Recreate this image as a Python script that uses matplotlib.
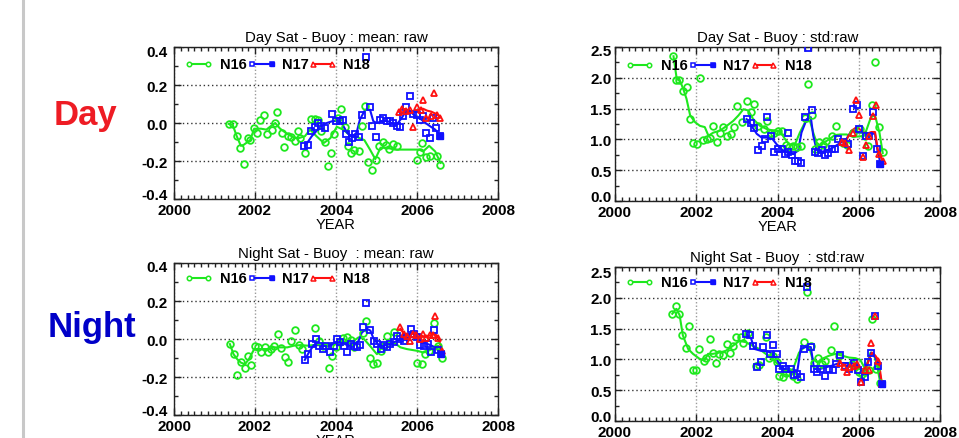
import matplotlib
matplotlib.use("Agg")
import matplotlib.pyplot as plt
from matplotlib.lines import Line2D
from matplotlib.ticker import MultipleLocator, FixedLocator
from matplotlib.transforms import offset_copy

plt.rcParams['font.family'] = ['Liberation Sans', 'DejaVu Sans']
plt.rcParams['axes.unicode_minus'] = False

# ---------------- Day mean ----------------
dm_n16_x = [2001.35, 2001.46, 2001.55, 2001.64, 2001.73, 2001.82, 2001.88, 2001.98, 2002.05, 2002.13,
            2002.23, 2002.29, 2002.41, 2002.50, 2002.55, 2002.66, 2002.71, 2002.82, 2002.90, 2002.98,
            2003.07, 2003.12, 2003.23, 2003.39, 2003.47, 2003.56, 2003.64, 2003.72, 2003.80, 2003.88,
            2003.96, 2004.04, 2004.12, 2004.23, 2004.29, 2004.37, 2004.45, 2004.56, 2004.64, 2004.72,
            2004.80, 2004.89, 2004.99, 2005.07, 2005.15, 2005.24, 2005.32, 2005.40, 2005.50, 2005.99,
            2006.07, 2006.13, 2006.22, 2006.31, 2006.50, 2006.58]
dm_n16_y = [-0.005, -0.005, -0.07, -0.13, -0.214, -0.08, -0.09, -0.026, -0.05, 0.018,
            0.04, -0.056, -0.035, 0.0, 0.056, -0.053, -0.126, -0.067, -0.074, -0.097,
            -0.04, -0.08, -0.158, 0.02, 0.02, 0.014, -0.044, -0.10, -0.225, -0.16,
            -0.06, 0.026, 0.074, -0.02, -0.12, -0.16, -0.14, -0.145, -0.018, 0.09,
            -0.207, -0.245, -0.196, -0.12, -0.10, -0.114, -0.137, -0.112, -0.12, -0.196,
            -0.15, -0.105, -0.18, -0.172, -0.172, -0.22]
dm_n16_lx = [2001.35, 2001.45, 2001.55, 2001.65, 2001.72, 2001.88, 2001.98, 2002.15, 2002.28, 2002.40,
             2002.50, 2002.62, 2002.78, 2002.95, 2003.07, 2003.23, 2003.36, 2003.52, 2003.70, 2003.86,
             2004.02, 2004.18, 2004.37, 2004.53, 2004.70, 2004.84, 2004.97, 2005.10, 2005.25, 2005.45,
             2005.80, 2006.05, 2006.15, 2006.30, 2006.45, 2006.58]
dm_n16_ly = [-0.005, -0.01, -0.07, -0.12, -0.115, -0.09, -0.03, -0.03, -0.035, -0.015,
             0.0, -0.03, -0.055, -0.075, -0.08, -0.07, -0.035, -0.07, -0.105, -0.08,
             -0.02, -0.035, -0.07, -0.075, -0.09, -0.14, -0.19, -0.13, -0.13, -0.14,
             -0.14, -0.14, -0.15, -0.12, -0.15, -0.21]
dm_n17_x = [2003.21, 2003.30, 2003.39, 2003.47, 2003.56, 2003.64, 2003.72, 2003.90, 2004.00, 2004.09,
            2004.17, 2004.25, 2004.33, 2004.40, 2004.48, 2004.56, 2004.64, 2004.74, 2004.83, 2004.90,
            2004.99, 2005.08, 2005.17, 2005.25, 2005.33, 2005.41, 2005.50, 2005.58, 2005.66, 2005.74,
            2005.82, 2005.90, 2005.99, 2006.07, 2006.15, 2006.23, 2006.31, 2006.40, 2006.48, 2006.56]
dm_n17_y = [-0.12, -0.114, -0.044, -0.02, 0.0, -0.014, -0.026, 0.047, 0.012, 0.012,
            0.018, -0.06, -0.10, -0.08, -0.06, -0.074, 0.04, 0.35, 0.084, -0.014,
            -0.074, 0.014, 0.026, 0.008, 0.008, 0.0, -0.018, -0.02, 0.035, 0.084,
            0.14, 0.047, 0.044, 0.018, 0.035, -0.053, -0.08, 0.026, -0.026, -0.067]
dm_n17_lx = [2003.24, 2003.40, 2003.57, 2003.73, 2003.90, 2004.02, 2004.14, 2004.27, 2004.39, 2004.51,
             2004.59, 2004.72, 2004.84, 2004.92, 2005.00, 2005.13, 2005.25, 2005.37, 2005.50, 2005.62,
             2005.72, 2005.84, 2005.96, 2006.09, 2006.21, 2006.33, 2006.45, 2006.56]
dm_n17_ly = [-0.12, -0.07, -0.03, -0.003, 0.009, 0.012, 0.0, -0.05, -0.075, -0.05,
             0.018, 0.07, 0.07, 0.01, 0.0, 0.009, 0.012, 0.0, -0.009, 0.026,
             0.06, 0.06, 0.035, 0.021, 0.0, -0.018, -0.035, -0.062]
dm_n18_x = [2005.55, 2005.64, 2005.73, 2005.82, 2005.90, 2006.01, 2006.09, 2006.15, 2006.23, 2006.34,
            2006.42, 2006.50, 2006.58]
dm_n18_y = [0.06, 0.075, 0.062, 0.067, -0.02, 0.084, 0.07, 0.12, 0.026, 0.035,
            0.16, 0.044, 0.026]
dm_n18_lx = [2005.55, 2005.65, 2005.75, 2005.85, 2005.95, 2006.05, 2006.15, 2006.25, 2006.35, 2006.45,
             2006.52, 2006.58]
dm_n18_ly = [0.06, 0.075, 0.07, 0.06, 0.06, 0.07, 0.075, 0.065, 0.06, 0.05,
             0.04, 0.03]

# ---------------- Day std ----------------
ds_n16_x = [2001.42, 2001.50, 2001.58, 2001.67, 2001.76, 2001.85, 2001.93, 2002.01, 2002.09, 2002.17,
            2002.27, 2002.34, 2002.42, 2002.50, 2002.58, 2002.67, 2002.75, 2002.85, 2002.93, 2003.01,
            2003.12, 2003.24, 2003.34, 2003.42, 2003.53, 2003.67, 2003.75, 2003.83, 2003.91, 2004.02,
            2004.10, 2004.21, 2004.29, 2004.39, 2004.49, 2004.59, 2004.67, 2004.76, 2004.84, 2004.92,
            2005.03, 2005.11, 2005.19, 2005.33, 2005.44, 2005.62, 2005.70, 2005.87, 2006.03, 2006.15,
            2006.23, 2006.32, 2006.41, 2006.50, 2006.59]
ds_n16_y = [2.35, 1.97, 1.97, 1.79, 1.85, 1.33, 0.94, 0.92, 1.99, 0.99,
            1.00, 1.02, 1.22, 0.95, 1.11, 1.20, 1.05, 1.09, 1.20, 1.54,
            1.28, 1.63, 1.44, 1.58, 1.22, 1.17, 1.30, 1.11, 1.11, 1.14,
            1.13, 0.91, 0.87, 0.90, 0.87, 0.89, 1.34, 1.90, 1.39, 0.84,
            0.96, 0.91, 0.98, 1.05, 1.21, 0.94, 0.91, 1.10, 1.17, 1.05,
            0.90, 1.56, 2.26, 1.20, 0.79]
ds_n16_lx = [2001.44, 2001.52, 2001.60, 2001.68, 2001.76, 2001.85, 2001.97, 2002.09, 2002.21, 2002.30,
             2002.42, 2002.58, 2002.75, 2002.91, 2003.04, 2003.16, 2003.28, 2003.40, 2003.57, 2003.73,
             2003.90, 2004.06, 2004.18, 2004.31, 2004.43, 2004.55, 2004.68, 2004.80, 2004.88, 2004.96,
             2005.05, 2005.17, 2005.29, 2005.41, 2005.54, 2005.70, 2005.87, 2006.03, 2006.14, 2006.30,
             2006.40, 2006.51, 2006.59]
ds_n16_ly = [2.35, 1.98, 1.95, 1.82, 1.66, 1.39, 1.28, 1.22, 1.20, 1.06,
             1.11, 1.14, 1.22, 1.30, 1.39, 1.49, 1.47, 1.33, 1.22, 1.17,
             1.14, 1.14, 1.01, 0.90, 0.92, 1.11, 1.28, 1.30, 1.11, 0.95,
             0.90, 0.96, 1.01, 1.07, 1.08, 1.08, 1.04, 1.05, 1.06, 1.36,
             1.39, 1.11, 0.78]
ds_n17_x = [2003.24, 2003.34, 2003.42, 2003.53, 2003.61, 2003.69, 2003.75, 2003.83, 2003.91, 2004.02,
            2004.10, 2004.18, 2004.27, 2004.27, 2004.35, 2004.43, 2004.51, 2004.59, 2004.67, 2004.76,
            2004.84, 2004.92, 2005.00, 2005.09, 2005.17, 2005.25, 2005.33, 2005.41, 2005.50, 2005.62,
            2005.74, 2005.87, 2005.95, 2006.01, 2006.10, 2006.18, 2006.26, 2006.34, 2006.44, 2006.52]
ds_n17_y = [1.33, 1.27, 1.18, 0.83, 0.90, 1.00, 1.37, 1.05, 0.79, 0.85,
            0.84, 0.76, 0.80, 1.10, 0.74, 0.65, 0.65, 0.62, 1.37, 2.49,
            1.48, 0.80, 0.78, 0.83, 0.74, 0.78, 0.84, 0.85, 1.00, 0.95,
            0.92, 1.49, 1.56, 1.17, 0.73, 1.05, 1.06, 1.44, 0.85, 0.60]
ds_n17_lx = [2003.24, 2003.36, 2003.49, 2003.61, 2003.73, 2003.86, 2003.98, 2004.10, 2004.22, 2004.39,
             2004.51, 2004.59, 2004.72, 2004.82, 2004.88, 2004.96, 2005.09, 2005.21, 2005.37, 2005.54,
             2005.70, 2005.82, 2005.95, 2006.11, 2006.28, 2006.40, 2006.46, 2006.54]
ds_n17_ly = [1.33, 1.22, 1.09, 1.03, 1.03, 1.02, 0.92, 0.84, 0.79, 0.76,
             0.82, 1.11, 1.33, 1.36, 1.06, 0.84, 0.80, 0.82, 0.87, 0.94,
             1.01, 1.14, 1.11, 1.11, 1.10, 1.09, 0.82, 0.60]
ds_n18_x = [2005.58, 2005.66, 2005.77, 2005.85, 2005.93, 2006.01, 2006.10, 2006.18, 2006.26, 2006.34,
            2006.42, 2006.50, 2006.59]
ds_n18_y = [0.96, 0.94, 0.82, 1.10, 1.64, 1.39, 0.71, 0.91, 1.06, 1.38,
            1.56, 0.76, 0.65]
ds_n18_lx = [2005.58, 2005.70, 2005.82, 2005.95, 2006.07, 2006.19, 2006.31, 2006.40, 2006.48, 2006.59]
ds_n18_ly = [0.96, 1.00, 1.14, 1.20, 1.14, 1.09, 1.12, 1.12, 0.79, 0.65]

# ---------------- Night mean ----------------
nm_n16_x = [2001.38, 2001.47, 2001.56, 2001.65, 2001.75, 2001.83, 2001.91, 2001.99, 2002.07, 2002.16,
            2002.24, 2002.32, 2002.40, 2002.48, 2002.57, 2002.65, 2002.73, 2002.81, 2002.90, 2002.98,
            2003.08, 2003.17, 2003.49, 2003.58, 2003.68, 2003.82, 2003.91, 2003.99, 2004.09, 2004.18,
            2004.26, 2004.36, 2004.44, 2004.66, 2004.75, 2004.83, 2004.92, 2005.01, 2005.10, 2005.18,
            2005.26, 2005.43, 2006.00, 2006.12, 2006.20, 2006.29, 2006.41, 2006.52, 2006.62]
nm_n16_y = [-0.027, -0.08, -0.19, -0.12, -0.15, -0.092, -0.138, -0.035, -0.044, -0.067,
            -0.044, -0.07, -0.053, -0.035, 0.027, -0.046, -0.097, -0.12, -0.009, 0.05,
            -0.032, -0.053, 0.057, -0.009, -0.039, -0.15, -0.088, -0.044, -0.014, 0.004,
            0.012, -0.004, -0.044, 0.03, 0.097, -0.10, -0.133, -0.124, -0.062, -0.035,
            0.014, 0.035, -0.127, -0.133, -0.08, -0.062, 0.085, -0.039, -0.10]
nm_n16_lx = [2001.38, 2001.47, 2001.56, 2001.65, 2001.75, 2001.85, 2001.98, 2002.14, 2002.30, 2002.47,
             2002.63, 2002.80, 2002.96, 2003.13, 2003.29, 2003.45, 2003.62, 2003.78, 2003.95, 2004.11,
             2004.28, 2004.44, 2004.56, 2004.69, 2004.85, 2005.01, 2005.10, 2005.26, 2005.43, 2005.59,
             2005.75, 2006.00, 2006.16, 2006.29, 2006.41, 2006.52, 2006.62]
nm_n16_ly = [-0.027, -0.08, -0.106, -0.124, -0.133, -0.106, -0.053, -0.053, -0.053, -0.044,
             -0.044, -0.044, -0.035, -0.032, -0.035, -0.032, -0.032, -0.027, -0.023, -0.018,
             -0.014, -0.009, 0.009, 0.0, -0.039, -0.08, -0.053, -0.021, -0.018, -0.044,
             -0.053, -0.062, -0.071, -0.062, -0.044, -0.035, -0.08]
nm_n17_x = [2003.23, 2003.31, 2003.41, 2003.51, 2003.59, 2003.68, 2003.76, 2003.84, 2003.95, 2004.03,
            2004.11, 2004.19, 2004.28, 2004.36, 2004.44, 2004.52, 2004.60, 2004.67, 2004.75, 2004.83,
            2004.93, 2005.01, 2005.10, 2005.18, 2005.26, 2005.34, 2005.42, 2005.51, 2005.59, 2005.67,
            2005.75, 2005.84, 2005.92, 2006.00, 2006.08, 2006.17, 2006.26, 2006.34, 2006.43, 2006.51,
            2006.59]
nm_n17_y = [-0.11, -0.08, -0.027, 0.0, -0.035, -0.053, -0.039, -0.07, -0.035, 0.0,
            -0.018, -0.039, -0.067, -0.027, -0.035, -0.044, -0.032, 0.062, 0.19, 0.05,
            -0.009, -0.027, -0.053, -0.032, -0.044, -0.027, -0.014, 0.018, 0.0, -0.009,
            0.009, 0.053, 0.027, 0.009, -0.032, -0.035, -0.027, -0.07, 0.05, -0.057,
            -0.08]
nm_n17_lx = [2003.23, 2003.33, 2003.45, 2003.62, 2003.78, 2003.95, 2004.11, 2004.28, 2004.44, 2004.56,
             2004.64, 2004.77, 2004.85, 2004.93, 2005.06, 2005.18, 2005.34, 2005.51, 2005.67, 2005.84,
             2006.00, 2006.16, 2006.33, 2006.45, 2006.58]
nm_n17_ly = [-0.11, -0.071, -0.032, -0.032, -0.039, -0.027, -0.018, -0.032, -0.035, -0.009,
             0.035, 0.053, 0.044, 0.0, -0.032, -0.035, -0.027, -0.009, 0.0, 0.014,
             0.0, -0.018, -0.032, -0.044, -0.071]
nm_n18_x = [2005.59, 2005.67, 2005.75, 2005.82, 2005.90, 2005.98, 2006.07, 2006.15, 2006.23, 2006.31,
            2006.39, 2006.45, 2006.53, 2006.62]
nm_n18_y = [0.062, 0.027, 0.018, -0.009, 0.027, 0.021, 0.0, 0.027, 0.004, 0.021,
            0.021, 0.12, 0.004, -0.062]
nm_n18_lx = [2005.59, 2005.71, 2005.84, 2006.00, 2006.16, 2006.33, 2006.45, 2006.53, 2006.62]
nm_n18_ly = [0.053, 0.018, 0.027, 0.027, 0.014, 0.018, 0.027, 0.004, -0.062]

# ---------------- Night std ----------------
ns_n16_x = [2001.41, 2001.49, 2001.58, 2001.66, 2001.74, 2001.82, 2001.92, 2002.00, 2002.07, 2002.18,
            2002.24, 2002.33, 2002.41, 2002.49, 2002.57, 2002.67, 2002.75, 2002.83, 2002.91, 2002.99,
            2003.10, 2003.16, 2003.27, 2003.47, 2003.55, 2003.71, 2003.80, 2003.89, 2003.98, 2004.04,
            2004.14, 2004.20, 2004.29, 2004.38, 2004.47, 2004.65, 2004.73, 2004.82, 2004.90, 2005.00,
            2005.09, 2005.18, 2005.31, 2005.39, 2005.51, 2005.84, 2006.00, 2006.07, 2006.15, 2006.24,
            2006.33, 2006.42, 2006.53]
ns_n16_y = [1.74, 1.86, 1.74, 1.39, 1.18, 1.54, 0.82, 0.82, 1.17, 0.98,
            1.02, 1.33, 1.10, 0.94, 1.09, 1.07, 1.25, 1.10, 1.22, 1.36,
            1.36, 1.27, 1.43, 0.90, 0.91, 1.36, 1.02, 1.06, 0.96, 0.73,
            0.72, 0.78, 0.79, 0.73, 0.68, 1.28, 2.09, 1.21, 0.94, 1.02,
            0.92, 0.98, 1.16, 1.54, 1.06, 0.92, 0.80, 0.76, 0.79, 0.82,
            1.65, 0.84, 0.62]
ns_n16_lx = [2001.41, 2001.51, 2001.59, 2001.67, 2001.80, 2001.92, 2002.08, 2002.20, 2002.29, 2002.41,
             2002.57, 2002.73, 2002.90, 2003.06, 2003.22, 2003.39, 2003.55, 2003.71, 2003.88, 2004.04,
             2004.20, 2004.37, 2004.53, 2004.69, 2004.78, 2004.86, 2004.98, 2005.10, 2005.27, 2005.43,
             2005.59, 2005.76, 2005.92, 2006.04, 2006.16, 2006.29, 2006.37, 2006.45, 2006.53]
ns_n16_ly = [1.74, 1.82, 1.72, 1.39, 1.17, 1.09, 1.01, 0.98, 1.09, 1.09,
             1.11, 1.14, 1.22, 1.30, 1.28, 1.22, 1.17, 1.09, 1.01, 0.90,
             0.82, 0.82, 1.11, 1.22, 1.20, 1.01, 0.95, 1.01, 1.06, 1.09,
             1.06, 1.03, 1.02, 0.99, 0.84, 1.11, 1.09, 0.90, 0.62]
ns_n17_x = [2003.22, 2003.32, 2003.40, 2003.49, 2003.59, 2003.65, 2003.73, 2003.81, 2003.89, 2003.98,
            2004.04, 2004.14, 2004.22, 2004.33, 2004.41, 2004.49, 2004.57, 2004.65, 2004.73, 2004.82,
            2004.90, 2004.98, 2005.06, 2005.17, 2005.27, 2005.37, 2005.45, 2005.55, 2005.67, 2005.76,
            2005.88, 2005.98, 2006.06, 2006.16, 2006.23, 2006.31, 2006.39, 2006.47, 2006.56]
ns_n17_y = [1.41, 1.39, 1.21, 0.87, 0.96, 1.20, 1.39, 1.09, 1.23, 1.09,
            0.84, 0.89, 0.84, 0.84, 0.74, 0.76, 0.71, 1.17, 2.17, 1.20,
            0.84, 0.80, 0.84, 0.73, 0.84, 0.83, 0.92, 1.07, 0.89, 0.84,
            0.94, 0.83, 0.63, 0.72, 0.95, 1.11, 1.70, 0.90, 0.60]
ns_n17_lx = [2003.22, 2003.35, 2003.43, 2003.59, 2003.76, 2003.88, 2004.00, 2004.08, 2004.20, 2004.37,
             2004.49, 2004.57, 2004.69, 2004.82, 2004.90, 2005.02, 2005.18, 2005.35, 2005.51, 2005.67,
             2005.84, 2006.00, 2006.08, 2006.20, 2006.31, 2006.41, 2006.49, 2006.56]
ns_n17_ly = [1.41, 1.34, 1.17, 1.14, 1.13, 1.09, 0.98, 0.87, 0.84, 0.83,
             0.82, 1.17, 1.20, 1.20, 0.85, 0.84, 0.87, 0.90, 0.94, 0.94,
             0.94, 0.90, 0.79, 0.90, 1.11, 1.03, 0.90, 0.60]
ns_n18_x = [2005.55, 2005.63, 2005.71, 2005.79, 2005.88, 2005.96, 2006.06, 2006.16, 2006.24, 2006.31,
            2006.39, 2006.47, 2006.57]
ns_n18_y = [0.94, 0.87, 0.79, 0.87, 0.90, 0.92, 0.63, 0.82, 0.82, 1.27,
            1.70, 0.98, 0.60]
ns_n18_lx = [2005.55, 2005.67, 2005.80, 2005.92, 2006.04, 2006.16, 2006.26, 2006.33, 2006.41, 2006.49, 2006.57]
ns_n18_ly = [0.94, 0.91, 0.87, 0.87, 0.85, 0.83, 1.01, 1.11, 1.06, 0.98, 0.60]

titles = ["Day Sat - Buoy : mean: raw", "Day Sat - Buoy : std:raw",
          "Night Sat - Buoy  : mean: raw", "Night Sat - Buoy  : std:raw"]
series_names = ["N16", "N17", "N18"]
x_ticks = [2000, 2002, 2004, 2006, 2008]
y_ticks_mean = [-0.4, -0.2, 0.0, 0.2, 0.4]
y_ticks_std = [0.0, 0.5, 1.0, 1.5, 2.0, 2.5]

GREEN = '#1ee81e'
BLUE = '#1010ff'
RED = '#ff1010'

W, H = 959, 439
fig = plt.figure(figsize=(W / 100, H / 100), dpi=100)

def rect(l, t, r, b):
    return [l / W, 1 - b / H, (r - l) / W, (b - t) / H]

ax_dm = fig.add_axes(rect(174, 48, 498, 200))
ax_ds = fig.add_axes(rect(615, 48, 940, 202))
ax_nm = fig.add_axes(rect(174, 264, 498, 416))
ax_ns = fig.add_axes(rect(615, 268, 940, 422))

panels = [
    (ax_dm, titles[0], y_ticks_mean,
     [(dm_n16_x, dm_n16_y, dm_n16_lx, dm_n16_ly),
      (dm_n17_x, dm_n17_y, dm_n17_lx, dm_n17_ly),
      (dm_n18_x, dm_n18_y, dm_n18_lx, dm_n18_ly)], 6, 0.888, -3.5),
    (ax_ds, titles[1], y_ticks_std,
     [(ds_n16_x, ds_n16_y, ds_n16_lx, ds_n16_ly),
      (ds_n17_x, ds_n17_y, ds_n17_lx, ds_n17_ly),
      (ds_n18_x, ds_n18_y, ds_n18_lx, ds_n18_ly)], 3.5, 0.885, -2.5),
    (ax_nm, titles[2], y_ticks_mean,
     [(nm_n16_x, nm_n16_y, nm_n16_lx, nm_n16_ly),
      (nm_n17_x, nm_n17_y, nm_n17_lx, nm_n17_ly),
      (nm_n18_x, nm_n18_y, nm_n18_lx, nm_n18_ly)], 6, 0.90, -3.0),
    (ax_ns, titles[3], y_ticks_std,
     [(ns_n16_x, ns_n16_y, ns_n16_lx, ns_n16_ly),
      (ns_n17_x, ns_n17_y, ns_n17_lx, ns_n17_ly),
      (ns_n18_x, ns_n18_y, ns_n18_lx, ns_n18_ly)], 3.5, 0.90, -4.0),
]

styles = [dict(color=GREEN, marker='o', ms=4.8, lms=3.2),
          dict(color=BLUE, marker='s', ms=4.2, lms=3.0),
          dict(color=RED, marker='^', ms=5.0, lms=3.6)]

# legend layout (axes fractions)
leg_seg = [(0.047, 0.106), (0.240, 0.301), (0.430, 0.487)]
leg_txt = [0.142, 0.333, 0.522]

for ax, title, yticks, data, ypad_px, leg_y, top_dy in panels:
    ax.set_xlim(x_ticks[0], x_ticks[-1])
    ax.set_ylim(yticks[0], yticks[-1])
    ystep = yticks[1] - yticks[0]
    ax.xaxis.set_major_locator(FixedLocator(x_ticks))
    ax.xaxis.set_minor_locator(MultipleLocator(1 / 6))
    ax.yaxis.set_major_locator(FixedLocator(yticks))
    ax.yaxis.set_minor_locator(MultipleLocator(ystep / 2))
    ax.tick_params(which='both', direction='in', top=True, right=True, width=1.0, color='#222222')
    ax.tick_params(which='major', length=5)
    ax.tick_params(which='minor', length=3)
    ax.tick_params(axis='x', which='major', pad=3, labelsize=11)
    ax.tick_params(axis='y', labelleft=False)
    for lab in ax.get_xticklabels():
        lab.set_fontweight('bold')
    # y tick labels (end labels nudged inwards as in the original)
    for i, v in enumerate(yticks):
        dy = 0.0
        if i == len(yticks) - 1:
            dy = top_dy
        elif i == 0:
            dy = 5.5
        tr = offset_copy(ax.get_yaxis_transform(), fig=fig, x=-ypad_px, y=dy, units='dots')
        ax.text(0, v, f"{v:.1f}", transform=tr, ha='right', va='center_baseline',
                fontsize=11, fontweight='bold')
    for sp in ax.spines.values():
        sp.set_linewidth(1.0)
        sp.set_color('#222222')
    ax.xaxis.grid(True, which='major', color='#9a9a9a', ls=(0, (1, 1.5)), lw=1.0)
    ax.yaxis.grid(True, which='major', color='#333333', ls=(0, (1, 2.0)), lw=1.0)
    ax.set_axisbelow(True)
    ax.set_title(title, fontsize=10.8, pad=4)
    ax.set_xlabel("YEAR", fontsize=10.5, labelpad=0)

    for k, ((px, py, lx, ly), st) in enumerate(zip(data, styles)):
        ax.plot(lx, ly, '-', color=st['color'], lw=1.5, zorder=3)
        ax.plot(px, py, ls='none', marker=st['marker'], ms=st['ms'], mfc='none',
                mec=st['color'], mew=1.3, zorder=4)
        # legend entry
        x0, x1 = leg_seg[k]
        ax.plot([x0, x1], [leg_y, leg_y], transform=ax.transAxes, color=st['color'], lw=1.5,
                marker=st['marker'], ms=st['lms'], mfc='white', mec=st['color'], mew=1.1,
                zorder=6, clip_on=False)
        ax.text(leg_txt[k], leg_y, series_names[k], transform=ax.transAxes, ha='left',
                va='center', fontsize=10.5, fontweight='bold', zorder=6)
    # N17: last point (and legend end marker) drawn filled
    px17, py17 = data[1][0], data[1][1]
    ax.plot(px17[-1:], py17[-1:], ls='none', marker='s', ms=4.2, color=BLUE, zorder=5)
    ax.plot([leg_seg[1][1]], [leg_y], transform=ax.transAxes, ls='none', marker='s',
            ms=styles[1]['lms'], color=BLUE, zorder=7)

fig.add_artist(Line2D([22.5 / W, 22.5 / W], [0, 1], transform=fig.transFigure,
                      color='#c8c8c8', lw=2.2))
fig.text(86 / W, 1 - 116 / H, "Day", color='#ee1c24', fontsize=25, fontweight='bold',
         ha='center', va='center')
fig.text(92 / W, 1 - 328 / H, "Night", color='#0000c8', fontsize=25, fontweight='bold',
         ha='center', va='center')

fig.savefig("out.png", dpi=100)
